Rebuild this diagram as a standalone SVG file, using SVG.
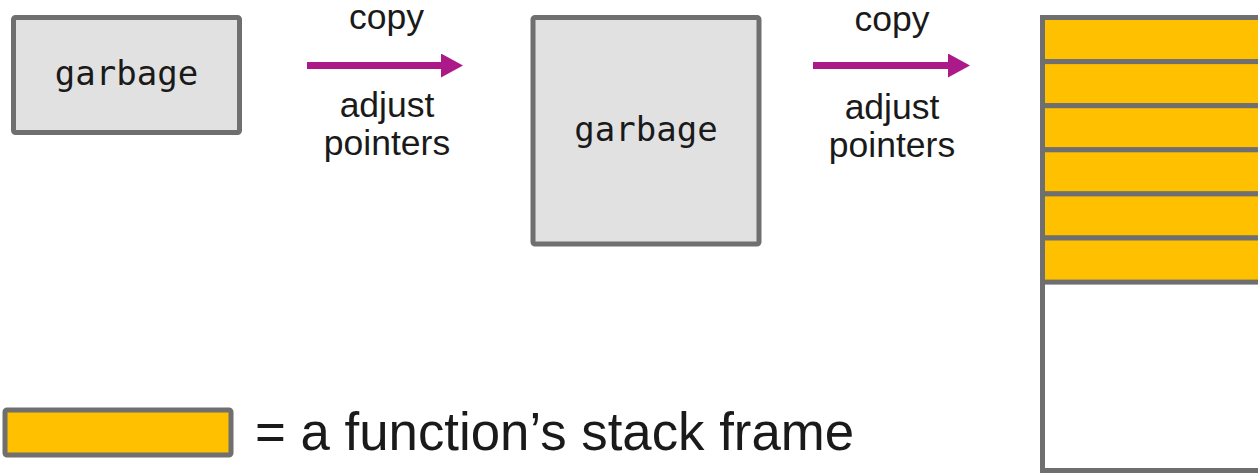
<svg xmlns="http://www.w3.org/2000/svg" width="1258" height="473" viewBox="0 0 1258 473">
  <style>
    .box { fill: #e1e1e1; stroke: #6f6f6f; stroke-width: 5; }
    .frame { fill: #ffc000; stroke: #6f6f6f; stroke-width: 5; }
    .stack { fill: #ffffff; stroke: #6f6f6f; stroke-width: 5; }
    .mono { font-family: "DejaVu Sans Mono", "Liberation Mono", monospace; font-size: 34px; fill: #1a1a1a; text-anchor: middle; }
    .label { font-family: "Liberation Sans", Arial, sans-serif; font-size: 35.5px; fill: #1a1a1a; text-anchor: middle; }
    .legend { font-family: "Liberation Sans", Arial, sans-serif; font-size: 52.8px; fill: #1a1a1a; }
    .arrow { stroke: #ab1a88; stroke-width: 7; fill: none; }
  </style>
  <defs>
    <marker id="head" markerUnits="userSpaceOnUse" markerWidth="22" markerHeight="24" refX="0" refY="12" orient="auto">
      <path d="M0,0 L22,12 L0,24 Z" fill="#ab1a88"/>
    </marker>
  </defs>

  <!-- heap before collection -->
  <g id="heap-small">
    <rect class="box" x="13.5" y="17.5" width="226" height="115" rx="2"/>
    <text class="mono" x="126.5" y="84.5">garbage</text>
  </g>

  <!-- heap after first copy -->
  <g id="heap-large">
    <rect class="box" x="533" y="17.5" width="226" height="226.5" rx="2"/>
    <text class="mono" x="646" y="140.5">garbage</text>
  </g>

  <!-- stack of frames -->
  <g id="stack">
    <rect class="stack" x="1042.5" y="17.5" width="240" height="453"/>
    <rect class="frame" x="1042.5" y="17.5" width="240" height="44.1"/>
    <rect class="frame" x="1042.5" y="61.6" width="240" height="44.1"/>
    <rect class="frame" x="1042.5" y="105.7" width="240" height="44.1"/>
    <rect class="frame" x="1042.5" y="149.8" width="240" height="44.1"/>
    <rect class="frame" x="1042.5" y="193.9" width="240" height="44.1"/>
    <rect class="frame" x="1042.5" y="238" width="240" height="44.1"/>
  </g>

  <!-- legend -->
  <g id="legend">
    <rect class="frame" x="5" y="410" width="226" height="45" rx="2"/>
    <text class="legend" x="255" y="450">= a function’s stack frame</text>
  </g>

  <!-- connectors -->
  <g id="connectors">
    <g id="step1">
      <line class="arrow" x1="307" y1="65.5" x2="441" y2="65.5" marker-end="url(#head)"/>
      <text class="label" x="386.5" y="29">copy</text>
      <text class="label" x="387" y="117">adjust</text>
      <text class="label" x="387" y="155">pointers</text>
    </g>
    <g id="step2">
      <line class="arrow" x1="813" y1="65.5" x2="948" y2="65.5" marker-end="url(#head)"/>
      <text class="label" x="892" y="31">copy</text>
      <text class="label" x="892" y="119">adjust</text>
      <text class="label" x="892" y="157">pointers</text>
    </g>
  </g>
</svg>
